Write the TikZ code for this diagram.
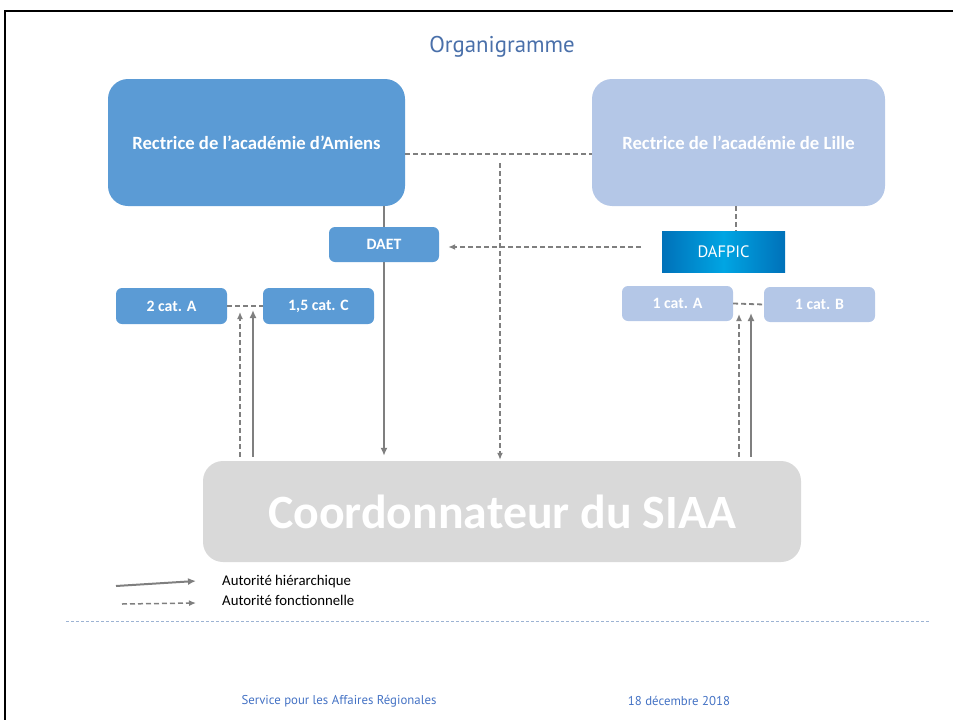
\documentclass[tikz,border=0pt]{standalone}
\usepackage{fontspec}
\setmainfont{Carlito}
\newfontfamily\gillfont{PT Sans}
\usetikzlibrary{arrows.meta,shadings}
\definecolor{amiensblue}{HTML}{5B9BD5}
\definecolor{lilleblue}{HTML}{B4C7E7}
\definecolor{coordgray}{HTML}{D9D9D9}
\definecolor{linegray}{HTML}{7F7F7F}
\definecolor{titleblue}{HTML}{4A70AA}
\definecolor{footblue}{HTML}{4472C4}
\definecolor{sepblue}{HTML}{9DB3D3}
\definecolor{dafdark}{HTML}{0071B9}
\definecolor{daflight}{HTML}{00A5E3}
\tikzset{
  box/.style={rounded corners=#1, inner sep=0pt, text=white, font=\fontsize{15.8}{18}\selectfont\bfseries, align=center},
  box/.default=6pt,
  solidarrow/.style={draw=linegray, line width=2.4pt, -{Latex[length=8pt,width=7pt]}},
  dasharrow/.style={draw=linegray, line width=1.8pt, dash pattern=on 5pt off 3pt, -{Latex[length=7pt,width=6pt]}},
  dashline/.style={draw=linegray, line width=1.8pt, dash pattern=on 5pt off 3pt},
}
\begin{document}
\begin{tikzpicture}[x=1pt,y=-1pt]
\useasboundingbox (0,0) rectangle (953,720);
% frame
\draw[line width=2.5pt] (5,721) -- (5,11) -- (953,11);
% title
\node[font=\gillfont\fontsize{22.8}{25}\selectfont, text=titleblue] (title) at (502,47) {Organigramme};
% coordinates
\coordinate (jn) at (500,163);
\coordinate (dx) at (384,0);
\coordinate (lx) at (736,0);
\coordinate (df) at (641,247);
\coordinate (lda) at (240,312);
\coordinate (lso) at (253,310);
\coordinate (rda) at (739,314);
\coordinate (rso) at (751,313);
\coordinate (legs1) at (116,586);
\coordinate (legs2) at (196,581);
\coordinate (legd1) at (122,604);
\coordinate (legd2) at (196,603);
\coordinate (sep1) at (66,621);
\coordinate (sep2) at (930,621);
% big boxes
\path
  node[box=20pt, fill=amiensblue, minimum width=297pt, minimum height=127pt] (amiens) at (256.5,142.5) {}
  node[box=20pt, fill=lilleblue, minimum width=293pt, minimum height=127pt] (lille) at (738.5,142.5) {}
  node[box=20pt, fill=coordgray, minimum width=598pt, minimum height=101pt] (coord) at (502,511.5) {};
% small boxes nodes (anchors), drawn later
\path node[box, minimum width=110pt, minimum height=35pt] (daetA) at (384,244.5) {}
      node[inner sep=0pt, minimum width=123pt, minimum height=41pt] (dafpicA) at (723.5,251.5) {};
% connectors
\draw[dashline] ([yshift=-11.5pt]amiens.east) -- ([yshift=-11.5pt]lille.west);
\draw[dasharrow, shorten >=1pt] (jn) -- (jn |- coord.north);
\draw[solidarrow, shorten >=5pt] (amiens.south -| dx) -- (coord.north -| dx);
\draw[dashline] (lille.south -| lx) -- (dafpicA.north -| lx);
\draw[dasharrow, shorten >=9pt] (df) -- (df -| daetA.east);
% small boxes
\node[box, fill=amiensblue, minimum width=110pt, minimum height=35pt] (daet) at (384,244.5) {DAET};
\node[inner sep=0pt, minimum width=123pt, minimum height=41pt, left color=dafdark, right color=dafdark, middle color=daflight, text=white, font=\gillfont\fontsize{16.5}{18}\selectfont] (dafpic) at (723.5,251.5) {DAFPIC};
\node[box, fill=amiensblue, minimum width=111pt, minimum height=36pt] (catA1) at (171.5,306) {2 cat. A};
\node[box, fill=amiensblue, minimum width=111pt, minimum height=36pt] (catC) at (318.5,306) {1,5 cat. C};
\node[box, fill=lilleblue, minimum width=111pt, minimum height=35pt] (catA2) at (677.5,303.5) {1 cat. A};
\node[box, fill=lilleblue, minimum width=111pt, minimum height=35pt] (catB) at (819.5,304.5) {1 cat. B};
\draw[dashline] (catA1.east) -- (catC.west);
\draw[dashline] (catA2.east) -- (catB.west);
% upward arrows
\draw[dasharrow] ([yshift=4pt]coord.north -| lda) -- (lda);
\draw[solidarrow] ([yshift=4pt]coord.north -| lso) -- (lso);
\draw[dasharrow] ([yshift=4pt]coord.north -| rda) -- (rda);
\draw[solidarrow] ([yshift=4pt]coord.north -| rso) -- (rso);
% big box texts
\node[text=white, font=\fontsize{18.7}{21}\selectfont\bfseries] (amienst) at (amiens.center) {Rectrice de l’académie d’Amiens};
\node[text=white, font=\fontsize{18.7}{21}\selectfont\bfseries] (lillet) at (lille.center) {Rectrice de l’académie de Lille};
\node[text=white, font=\fontsize{47.8}{52}\selectfont\bfseries] (coordt) at (coord.center) {Coordonnateur du SIAA};
% legend
\draw[solidarrow, line width=2pt] (legs1) -- (legs2);
\draw[dasharrow, line width=1.5pt] (legd1) -- (legd2);
\node[anchor=west, inner sep=0pt, font=\fontsize{14.8}{17}\selectfont] (leg1) at (222,582) {Autorité hiérarchique};
\node[anchor=west, inner sep=0pt, font=\fontsize{14.8}{17}\selectfont] (leg2) at (222,600) {Autorité fonctionnelle};
% separator
\draw[sepblue, line width=1pt, dash pattern=on 3pt off 2pt] (sep1) -- (sep2);
% footer
\node[font=\gillfont\fontsize{12.8}{15}\selectfont, text=footblue] (foot1) at (339,701) {Service pour les Affaires Régionales};
\node[font=\gillfont\fontsize{12.8}{15}\selectfont, text=footblue] (foot2) at (679,701) {18 décembre 2018};
\end{tikzpicture}
\end{document}
